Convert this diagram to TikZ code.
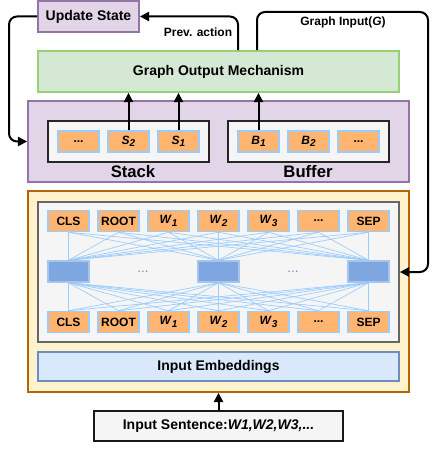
\documentclass[tikz,border=0pt]{standalone}
\usepackage{fontspec}
\setmainfont{Liberation Sans}
\usetikzlibrary{arrows.meta}
\newcommand\tok[2]{\textit{#1}\raisebox{-0.4ex}{\fontsize{7.5}{8}\selectfont\itshape #2}}
\newcommand\ellip{...}
\begin{document}
\begin{tikzpicture}[x=0.75pt,y=-0.75pt,
  font=\bfseries\fontsize{10.5}{12}\selectfont,
  box/.style={draw,line width=1.35pt,inner sep=0pt},
  cell/.style={box,line width=1.125pt,draw=cellline,fill=cellfill,minimum width=30.75pt,minimum height=15.75pt,font=\bfseries\fontsize{9}{10}\selectfont},
  arr/.style={-{Triangle[length=7pt,width=7pt]},line width=1.5pt,rounded corners=6pt},
  link/.style={draw=cellline,line width=0.5pt}]
\pgfmathsetlengthmacro\px{0.75pt};
\definecolor{updfill}{HTML}{E1D5E7}
\definecolor{updline}{HTML}{9673A6}
\definecolor{gomfill}{HTML}{D5E8D4}
\definecolor{gomline}{HTML}{97D077}
\definecolor{cellfill}{HTML}{FFB570}
\definecolor{cellline}{HTML}{99CCFF}
\definecolor{encfill}{HTML}{FFF2CC}
\definecolor{encline}{HTML}{B46504}
\definecolor{midfill}{HTML}{7EA6E0}
\definecolor{midline}{HTML}{A9C4EB}
\definecolor{embfill}{HTML}{DAE8FC}
\definecolor{embline}{HTML}{6C8EBF}
\useasboundingbox (0,0) rectangle (437,449);
\node[box,draw=updline,fill=updfill,minimum width=101*\px,minimum height=31*\px] (upd) at (88.5,16.5) {Update State};
\node[box,draw=gomline,fill=gomfill,minimum width=361*\px,minimum height=41*\px] (gom) at (218.5,71.5) {Graph Output Mechanism};
\node[box,draw=updline,fill=updfill,minimum width=381*\px,minimum height=81*\px] (sbout) at (218.5,141.5) {};
\node[box,draw=black!85,fill=black!4,minimum width=161*\px,minimum height=41*\px] (stack) at (128.5,141.5) {};
\node[box,draw=black!85,fill=black!4,minimum width=161*\px,minimum height=41*\px] (buffer) at (308.5,141.5) {};
\node[cell] (s3) at (78.5,141.5) {\ellip};
\node[cell] (s2) at (128.5,141.5) {\tok{S}{2}};
\node[cell] (s1) at (178.5,141.5) {\tok{S}{1}};
\node[cell] (b1) at (258.5,141.5) {\tok{B}{1}};
\node[cell] (b2) at (308.5,141.5) {\tok{B}{2}};
\node[cell] (b3) at (358.5,141.5) {\ellip};
\node[font=\bfseries\fontsize{12.5}{14}\selectfont] (stacklbl) at (133,172) {Stack};
\node[font=\bfseries\fontsize{12.5}{14}\selectfont] (bufferlbl) at (308,172) {Buffer};
\node[box,draw=encline,fill=encfill,minimum width=381*\px,minimum height=201*\px] (enc) at (218.5,291.5) {};
\node[box,draw=black!60,fill=black!4,minimum width=361*\px,minimum height=140*\px] (trans) at (218.5,272) {};
\foreach \n/\t [count=\i] in {0/CLS,1/ROOT,2/\tok{W}{1},3/\tok{W}{2},4/\tok{W}{3},5/\ellip,6/SEP} {
  \node[cell] (t\i) at (68.5+50*\n,221) {\t};
  \node[cell] (d\i) at (68.5+50*\n,322) {\t};
}
\foreach \j/\x in {1/68.5,2/218.5,3/368.5}
  \node[box,line width=1.125pt,draw=midline,fill=midfill,minimum width=41*\px,minimum height=21*\px] (h\j) at (\x,271.5) {};
\node[font=\fontsize{10}{11}\selectfont,text=embline] (dots1) at (143,271.5) {\ellip};
\node[font=\fontsize{10}{11}\selectfont,text=embline] (dots2) at (293,271.5) {\ellip};
\foreach \i in {1,...,7} \foreach \j in {1,2,3} {
  \draw[link] (t\i.south) -- (h\j.north);
  \draw[link] (h\j.south) -- (d\i.north);
}
\node[box,draw=embline,fill=embfill,minimum width=361*\px,minimum height=29*\px] (emb) at (218.5,366.5) {Input Embeddings};
\node[box,draw=black!90,fill=black!4,minimum width=249*\px,minimum height=30*\px] (sent) at (218.5,426) {Input Sentence:\textit{W1,W2,W3,\ellip}};
\coordinate (lft) at (9,141.5);
\coordinate (pa) at (238,16.5);
\coordinate (gi1) at (257,12);
\coordinate (gi2) at (428,12);
\draw[arr] (upd.west) -| (lft) -- (sbout.west);
\draw[arr] (pa |- gom.north) -- (pa) -- (upd.east);
\draw[arr] (gi1 |- gom.north) -- (gi1) -- (gi2) |- (trans.east);
\node[font=\bfseries\fontsize{9}{10}\selectfont] (prevlbl) at (198,32) {Prev. action};
\node[font=\bfseries\fontsize{9}{10}\selectfont] (gilbl) at (343,22) {Graph Input(\textit{G})};
\draw[arr] (s2.north) -- (s2.north |- gom.south);
\draw[arr] (s1.north) -- (s1.north |- gom.south);
\draw[arr] (b1.north) -- (b1.north |- gom.south);
\draw[arr] (sent.north) -- (sent.north |- enc.south);
\end{tikzpicture}
\end{document}
